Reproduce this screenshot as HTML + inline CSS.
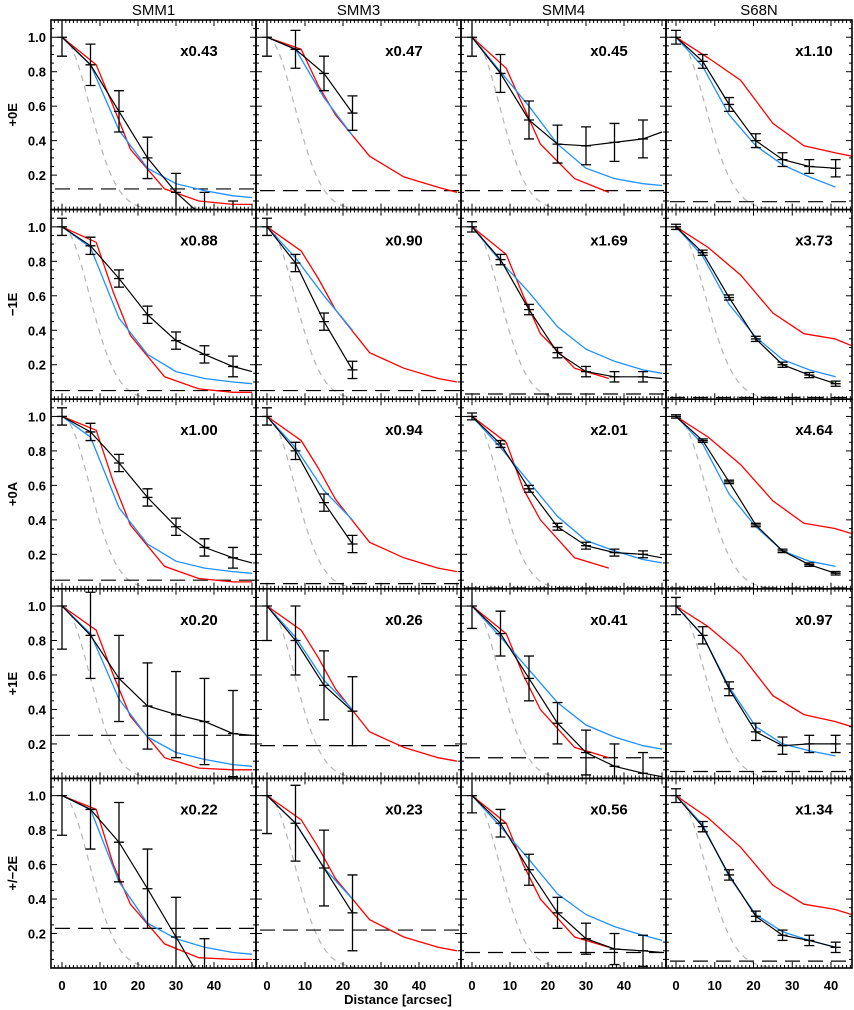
<!DOCTYPE html>
<html><head><meta charset="utf-8"><style>
html,body{margin:0;padding:0;background:#fff}
svg{display:block}
text{font-family:"Liberation Sans",sans-serif;fill:#000}
</style></head><body>
<svg id="chart" width="854" height="1010" viewBox="0 0 854 1010" xmlns="http://www.w3.org/2000/svg"></svg>
<script>
const colNames=['SMM1','SMM3','SMM4','S68N'];
const rowNames=['+0E','\u22121E','+0A','+1E','+/\u22122E'];
const scaleLabels=[['x0.43','x0.47','x0.45','x1.10'],['x0.88','x0.90','x1.69','x3.73'],['x1.00','x0.94','x2.01','x4.64'],['x0.20','x0.26','x0.41','x0.97'],['x0.22','x0.23','x0.56','x1.34']];
const xTicks=[0,10,20,30,40];
const yTicks=[0.2,0.4,0.6,0.8,1.0];
const obsX=[[0,7.5,15,22.5,30,37.5,45,50],[0,7.5,15,22.5],[0,7.5,15,22.5,30,37.5,45,50],[0,6.9,13.7,20.6,27.5,34.4,41.2]];
const obsY=[
[[1,.84,.57,.30,.10,-.05,-.10],[1,.93,.79,.56],[1,.79,.52,.38,.37,.39,.41,.45],[1,.86,.61,.40,.29,.25,.24]],
[[1,.89,.70,.49,.34,.26,.19,.16],[1,.79,.45,.17],[1,.81,.52,.27,.16,.13,.13,.12],[1,.85,.59,.35,.20,.14,.09]],
[[1,.91,.73,.53,.36,.24,.18,.15],[1,.80,.50,.26],[1,.84,.58,.36,.25,.21,.20,.18],[1,.86,.62,.37,.22,.14,.09]],
[[1,.83,.58,.42,.37,.33,.26,.25],[1,.80,.54,.39],[1,.84,.58,.32,.15,.07,.03,.01],[1,.83,.52,.27,.19,.20,.20]],
[[1,.92,.73,.46,.18,-.10],[1,.84,.58,.32],[1,.84,.57,.32,.17,.11,.10,.09],[1,.82,.54,.30,.19,.16,.12]]];
const obsErr=[
[[.11,.12,.12,.12,.11,.15,.15],[.11,.11,.10,.10],[.11,.11,.11,.11,.11,.11,.11],[.04,.04,.04,.04,.04,.04,.05]],
[[.05,.05,.05,.05,.05,.05,.06],[.05,.05,.05,.05],[.03,.03,.03,.03,.03,.03,.03],[.015,.015,.015,.015,.015,.015,.015]],
[[.05,.05,.05,.05,.05,.05,.06],[.05,.05,.05,.05],[.02,.02,.02,.02,.02,.02,.02],[.01,.01,.01,.01,.01,.01,.01]],
[[.25,.25,.25,.25,.25,.25,.25],[.20,.20,.20,.20],[.13,.13,.13,.12,.13,.13,.12],[.05,.05,.04,.05,.05,.05,.05]],
[[.23,.23,.23,.23,.23,.27],[.22,.22,.22,.22],[.10,.08,.09,.09,.09,.09,.09],[.04,.03,.03,.03,.03,.03,.03]]];
const bgLevel=[[.12,.11,.11,.046],[.05,.05,.03,.01],[.05,.03,.005,.005],[.25,.19,.12,.04],[.23,.22,.09,.04]];
const redX=[[0,9,13.5,18,27,36,45,50],[0,9,13.5,18,27,36,45,50],[0,9,13.5,18,27,36],[0,8.3,16.7,25,33,41,45.4]];
const redY=[
[[1,.84,.60,.35,.12,.05,.03,.03],[1,.93,.72,.55,.31,.19,.13,.10],[1,.82,.60,.38,.18,.10],[1,.88,.75,.50,.37,.33,.31]],
[[1,.91,.62,.37,.13,.06,.04,.04],[1,.86,.70,.52,.27,.18,.12,.10],[1,.84,.60,.38,.18,.12],[1,.88,.72,.50,.38,.35,.31]],
[[1,.92,.62,.37,.13,.06,.04,.04],[1,.86,.70,.52,.27,.18,.12,.10],[1,.85,.58,.40,.18,.12],[1,.88,.72,.51,.38,.35,.32]],
[[1,.86,.60,.36,.12,.06,.05,.05],[1,.86,.70,.52,.27,.18,.12,.10],[1,.84,.60,.40,.18,.12],[1,.88,.72,.48,.37,.33,.30]],
[[1,.92,.60,.37,.14,.06,.05,.05],[1,.86,.70,.52,.28,.18,.12,.10],[1,.84,.60,.40,.18,.12],[1,.87,.70,.48,.37,.34,.31]]];
const blueX=[[0,7.5,15,22.5,30,37.5,45,50],[0,7.5,15,22.5],[0,7.5,15,22.5,30,37.5,45,50],[0,6.9,13.7,20.6,27.5,34.4,41.2]];
const blueY=[
[[1,.84,.46,.24,.15,.11,.08,.07],[1,.93,.65,.43],[1,.80,.60,.38,.24,.18,.15,.14],[1,.83,.55,.37,.26,.19,.13]],
[[1,.88,.47,.26,.16,.12,.10,.09],[1,.82,.60,.40],[1,.80,.62,.42,.29,.22,.17,.15],[1,.83,.55,.36,.23,.17,.13]],
[[1,.88,.47,.26,.16,.12,.10,.09],[1,.82,.57,.40],[1,.82,.62,.42,.28,.22,.17,.15],[1,.84,.55,.36,.22,.16,.13]],
[[1,.84,.46,.24,.15,.11,.08,.07],[1,.82,.57,.40],[1,.82,.63,.44,.31,.24,.19,.17],[1,.83,.53,.30,.20,.16,.13]],
[[1,.92,.50,.26,.17,.12,.09,.08],[1,.84,.58,.40],[1,.82,.63,.43,.31,.24,.19,.16],[1,.83,.53,.31,.21,.16,.12]]];

const NS='http://www.w3.org/2000/svg';
const svg=document.getElementById('chart');
const colLeft=[51,256,461,666], colRight=[256,461,666,852];
const colX0=[62,267,472,676], colScale=[3.8,3.8,3.8,3.875];
const top0=20, rowH=189.6, yMax=1.1;
function el(tag,attrs,parent){const e=document.createElementNS(NS,tag);for(const k in attrs)e.setAttribute(k,attrs[k]);(parent||svg).appendChild(e);return e;}
function xPix(c,v){return colX0[c]+v*colScale[c];}
function yPix(r,v){return top0+rowH*(r+1)-v/yMax*rowH;}
function poly(c,r,xs,ys,attrs,g){
  const pts=xs.slice(0,ys.length).map((x,i)=>xPix(c,x).toFixed(1)+','+yPix(r,ys[i]).toFixed(1)).join(' ');
  const a=Object.assign({points:pts,fill:'none'},attrs);return el('polyline',a,g);
}
const defs=el('defs',{});
for(let r=0;r<5;r++)for(let c=0;c<4;c++){
  const L=colLeft[c],R=colRight[c],T=top0+r*rowH,B=T+rowH;
  const cp=el('clipPath',{id:'cp'+r+'_'+c},defs);
  el('rect',{x:L,y:T,width:R-L,height:rowH},cp);
  const g=el('g',{'clip-path':'url(#cp'+r+'_'+c+')'});
  
  
  const sig=c==3?7.5:7.2;const gx=[],gy=[];
  for(let x=0;x<=26;x+=0.5){gx.push(x);gy.push(Math.exp(-x*x/(2*sig*sig)));}
  const gl=poly(c,r,gx,gy,{stroke:'#b4b4b4','stroke-width':1.2,'stroke-dasharray':'6,5'},g);
  
  
  const bl=el('line',{x1:L+4,x2:R,y1:yPix(r,bgLevel[r][c]),y2:yPix(r,bgLevel[r][c]),stroke:'#000','stroke-width':1.2,'stroke-dasharray':'15,8'},g);
  
  
  const rl=poly(c,r,redX[c],redY[r][c],{stroke:'#f00','stroke-width':1.3},g);
  
  
  const bll=poly(c,r,blueX[c],blueY[r][c],{stroke:'#1e90ff','stroke-width':1.3},g);
  
  
  const ol=poly(c,r,obsX[c],obsY[r][c],{stroke:'#000','stroke-width':1.2},g);
  
  
  const errs=obsErr[r][c];
  for(let i=0;i<errs.length;i++){
    const x=xPix(c,obsX[c][i]),y=obsY[r][c][i],e=errs[i];
    const eb=el('g',{stroke:'#000','stroke-width':1.3},g);
    
    
    el('line',{x1:x,x2:x,y1:yPix(r,y+e),y2:yPix(r,y-e)},eb);
    el('line',{x1:x-5,x2:x+5,y1:yPix(r,y+e),y2:yPix(r,y+e)},eb);
    el('line',{x1:x-5,x2:x+5,y1:yPix(r,y-e),y2:yPix(r,y-e)},eb);
    el('line',{x1:x-5,x2:x+5,y1:yPix(r,y),y2:yPix(r,y)},eb);
  }
  const tg=el('g',{stroke:'#000','stroke-width':1});
  
  
  for(let x=-2;x<=50;x+=1){const px=xPix(c,x);if(px<=L+1||px>=R-1)continue;const len=(x%10===0)?6:3;
    el('line',{x1:px,x2:px,y1:B,y2:B-len},tg);el('line',{x1:px,x2:px,y1:T,y2:T+len},tg);}
  for(let k=1;k<22;k++){const v=k*0.05,py=yPix(r,v);if(py<=T+1)continue;const len=(k%4===0)?6:3;
    el('line',{x1:L,x2:L+len,y1:py,y2:py},tg);el('line',{x1:R,x2:R-len,y1:py,y2:py},tg);}
  const fr=el('rect',{x:L,y:T,width:R-L,height:rowH,fill:'none',stroke:'#000','stroke-width':1.6});
  
  
  const sl=el('text',{x:L+148,y:T+36,'text-anchor':'middle','font-size':15,'font-weight':'bold'});
  sl.textContent=scaleLabels[r][c];
  
  
  if(c===0){for(const v of yTicks){const t=el('text',{x:46,y:yPix(r,v)+5,'text-anchor':'end','font-size':13,'font-weight':'bold'});t.textContent=v.toFixed(1);
    
    }
    const rt=el('text',{x:17,y:T+rowH/2,'text-anchor':'middle','font-size':13,'font-weight':'bold',transform:'rotate(-90 17 '+(T+rowH/2)+')'});
    rt.textContent=rowNames[r];
    
    }
  if(r===4){for(const v of xTicks){const t=el('text',{x:xPix(c,v),y:990,'text-anchor':'middle','font-size':13,'font-weight':'bold'});t.textContent=String(v);
    
    }}
  if(r===0){const ct=el('text',{x:(L+R)/2,y:15,'text-anchor':'middle','font-size':15});ct.textContent=colNames[c];
    
    }
}
const xt=el('text',{x:398,y:1004,'text-anchor':'middle','font-size':13,'font-weight':'bold'});
xt.textContent='Distance [arcsec]';


</script>
</body></html>
